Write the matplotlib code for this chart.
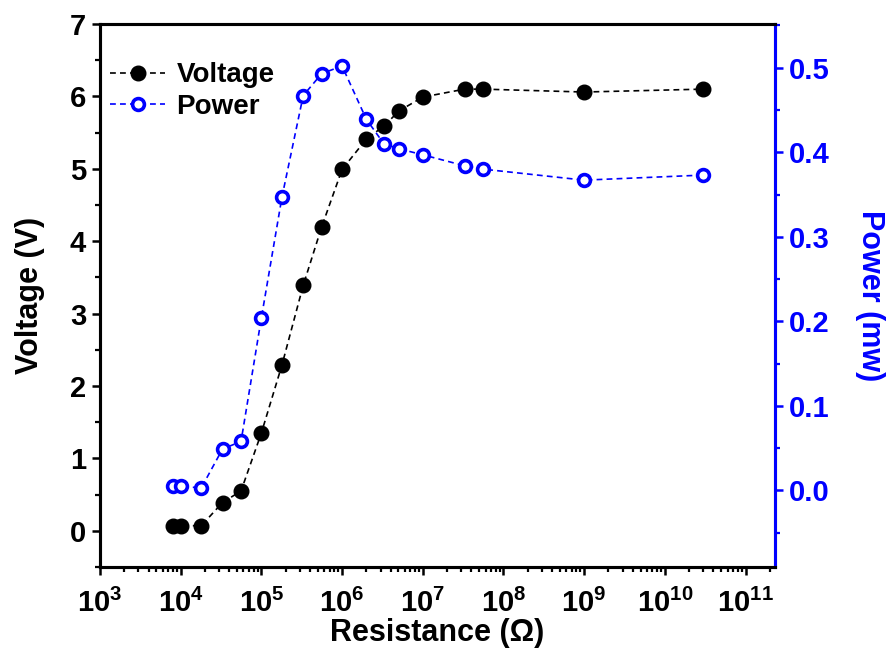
import matplotlib

matplotlib.use("Agg")
import matplotlib.pyplot as plt
from matplotlib.ticker import MultipleLocator, FixedLocator, NullFormatter

plt.rcParams["font.family"] = ["Liberation Sans", "DejaVu Sans"]
plt.rcParams["font.weight"] = "bold"
plt.rcParams["mathtext.fontset"] = "custom"
plt.rcParams["mathtext.rm"] = "Liberation Sans:bold"
plt.rcParams["mathtext.bf"] = "Liberation Sans:bold"

# resistance (ohm), voltage (V), power (mW)
resistance = [8e3, 1e4, 1.8e4, 3.3e4, 5.6e4, 1e5, 1.8e5, 3.3e5, 5.6e5, 1e6,
              2e6, 3.3e6, 5.1e6, 1e7, 3.3e7, 5.6e7, 1e9, 3e10]
voltage = [0.07, 0.07, 0.07, 0.39, 0.55, 1.35, 2.29, 3.39, 4.2, 4.99,
           5.41, 5.59, 5.8, 5.99, 6.1, 6.1, 6.06, 6.1]
power = [0.005, 0.005, 0.003, 0.049, 0.058, 0.204, 0.347, 0.467, 0.493, 0.502,
         0.439, 0.41, 0.404, 0.397, 0.384, 0.38, 0.367, 0.373]
decades = list(range(3, 12))

BLUE = "#0000ff"

fig = plt.figure(figsize=(8.91, 6.64), dpi=100)
ax = fig.add_axes([0.1122, 0.1461, 0.7576, 0.8178])
ax2 = ax.twinx()

ax.plot(resistance, voltage, linestyle=(0, (3.5, 2.5)), color="black", linewidth=1.2,
        marker="o", markersize=10.5, markerfacecolor="black", markeredgecolor="black",
        label="Voltage", zorder=3)
ax2.plot(resistance, power, linestyle=(0, (3.5, 2.5)), color=BLUE, linewidth=1.2,
         marker="o", markersize=8.5, markerfacecolor="white", markeredgecolor=BLUE,
         markeredgewidth=2.6, label="Power", zorder=3)

ax.set_xscale("log")
ax.set_xlim(1e3, 10 ** 11.365)
ax.set_ylim(-0.5, 7)
ax2.set_ylim(-0.0905, 0.5517)

ax.xaxis.set_major_locator(FixedLocator([10.0 ** k for k in decades]))
ax.set_xticklabels([f"$\\mathbf{{10^{{{k}}}}}$" for k in decades])
minor = [m * 10.0 ** k for k in range(3, 12) for m in range(2, 10)]
ax.xaxis.set_minor_locator(FixedLocator(minor))
ax.xaxis.set_minor_formatter(NullFormatter())

ax.yaxis.set_major_locator(MultipleLocator(1))
ax.yaxis.set_minor_locator(MultipleLocator(0.5))
ax2.yaxis.set_major_locator(MultipleLocator(0.1))
ax2.yaxis.set_minor_locator(MultipleLocator(0.05))
ax2.yaxis.set_major_formatter(plt.FuncFormatter(lambda v, p: f"{v:.1f}"))

for spine in ax.spines.values():
    spine.set_linewidth(2.2)
for spine in ax2.spines.values():
    spine.set_linewidth(2.2)
ax2.spines["right"].set_color(BLUE)

ax.tick_params(axis="both", which="major", direction="out", length=6, width=1.8,
               labelsize=21, pad=4)
ax.tick_params(axis="x", which="major", pad=10)
ax.tick_params(axis="both", which="minor", direction="out", length=3.5, width=1.6)
ax.tick_params(axis="x", which="both", top=False)
ax2.tick_params(axis="y", which="major", direction="out", length=6, width=1.8,
                labelsize=21, colors=BLUE, pad=4)
ax2.tick_params(axis="y", which="minor", direction="out", length=3.5, width=1.6, colors=BLUE)

ax.set_xlabel("Resistance (Ω)", fontsize=22, fontweight="bold", labelpad=0)
ax.set_ylabel("Voltage (V)", fontsize=22, fontweight="bold", labelpad=18)
ax2.set_ylabel("Power (mw)", fontsize=22, fontweight="bold", color=BLUE,
               rotation=270, labelpad=40)

h1, l1 = ax.get_legend_handles_labels()
h2, l2 = ax2.get_legend_handles_labels()
ax.legend(h1 + h2, l1 + l2, loc="upper left", bbox_to_anchor=(-0.01, 0.96),
          frameon=False, fontsize=20, handlelength=2.0, handletextpad=0.4,
          labelspacing=0.2, borderaxespad=0.2)

fig.savefig("out.png", dpi=100)
